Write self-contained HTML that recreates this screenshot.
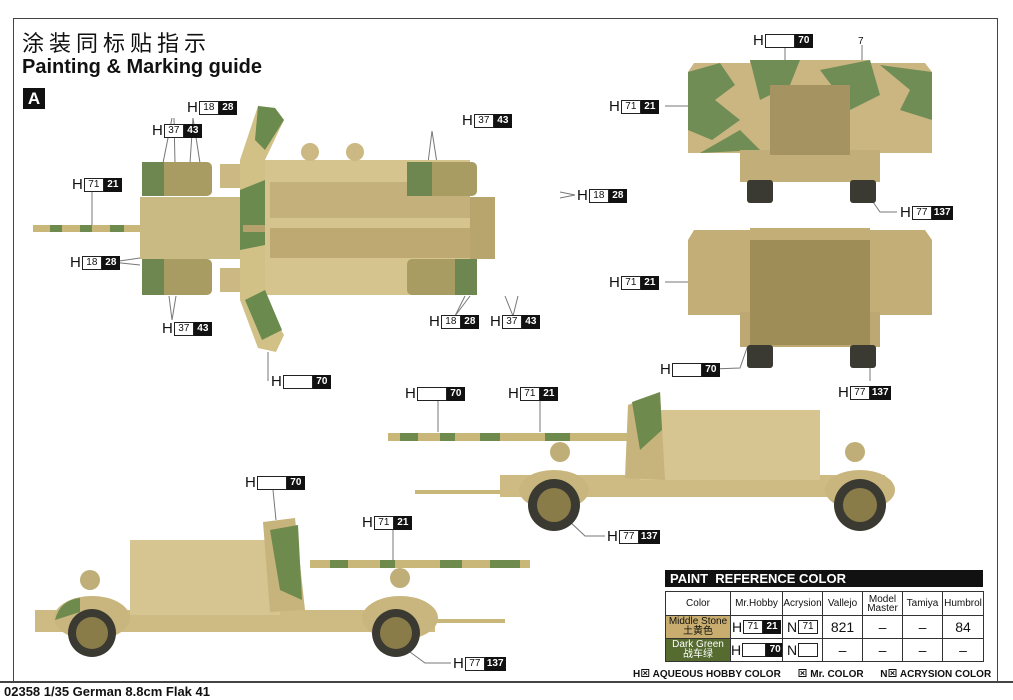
<!DOCTYPE html>
<html><head><meta charset="utf-8"><style>
*{margin:0;padding:0;box-sizing:border-box}
body{width:1013px;height:700px;background:#fff;position:relative;overflow:hidden;font-family:"Liberation Sans","Noto Sans CJK SC",sans-serif;color:#111}
.a{position:absolute}
.lb{position:absolute;display:flex;align-items:center;height:15px;font-size:15px;line-height:15px}
.lb .h{margin-right:1px}
.lb .w{display:inline-block;border:1px solid #222;height:14px;min-width:20px;font-size:10px;line-height:12px;text-align:center;padding:0 2px;background:#fff}
.lb .k{display:inline-block;background:#111;color:#fff;height:14px;min-width:18px;font-size:10px;font-weight:bold;line-height:14px;text-align:center;padding:0 2px}
.lb .e{min-width:30px}
table{border-collapse:collapse;position:absolute;left:665px;top:591px;font-size:10px;table-layout:fixed;width:318px}
td{border:1px solid #333;text-align:center;height:23px;padding:0;overflow:hidden;white-space:nowrap}
td .lb{font-size:14px}
</style></head><body>
<div class="a" style="left:13px;top:18px;width:985px;height:664px;border-left:1px solid #444;border-top:1px solid #444;border-right:1px solid #444"></div>
<div class="a" style="left:0;top:681px;width:1013px;height:2px;background:#444"></div>
<div class="a" style="left:22px;top:26px;font-size:22px;letter-spacing:5px">涂装同标贴指示</div>
<div class="a" style="left:22px;top:56px;font-size:20px;font-weight:bold">Painting &amp; Marking guide</div>
<div class="a" style="left:23px;top:88px;width:22px;height:21px;background:#111;color:#fff;font-weight:bold;font-size:17px;text-align:center;line-height:21px">A</div>
<div class="a" style="left:4px;top:684px;font-size:13px;font-weight:bold">02358 1/35 German 8.8cm Flak 41</div>

<svg class="a" style="left:0;top:0" width="1013" height="700">
<g stroke="#777" stroke-width="1" fill="none">
<path d="M172 118 L163 163 M174 118 L175 163 M193 118 L190 163 M193 118 L200 163"/>
<path d="M92 192 L92 228"/>
<path d="M112 262 L140 258 M112 262 L140 265"/>
<path d="M172 320 L169 296 M172 320 L176 296"/>
<path d="M268 352 L268 381"/>
<path d="M432 131 L428 163 M432 131 L437 163"/>
<path d="M575 195 L560 192 M575 195 L560 198"/>
<path d="M455 316 L465 296 M455 316 L470 296 M513 316 L505 296 M513 316 L518 296"/>
<path d="M785 47 L785 60 M862 45 L862 60"/>
<path d="M665 106 L690 106 M665 282 L690 282"/>
<path d="M897 212 L880 212 L873 202"/>
<path d="M712 369 L740 368 L748 345"/>
<path d="M870 381 L870 365"/>
<path d="M438 400 L438 432 M540 400 L540 432"/>
<path d="M605 536 L585 536 L568 520"/>
<path d="M273 490 L276 520 M393 530 L393 560"/>
<path d="M451 663 L425 663 L410 652"/>
</g>
<!-- TOP VIEW -->
<rect x="33" y="225" width="200" height="7" fill="#c8b779"/>
<g fill="#6f8a4d"><rect x="50" y="225" width="12" height="7"/><rect x="80" y="225" width="12" height="7"/><rect x="110" y="225" width="14" height="7"/><rect x="150" y="225" width="18" height="7"/><rect x="200" y="225" width="30" height="7"/></g>
<rect x="140" y="197" width="100" height="62" fill="#c9b982"/>
<rect x="240" y="160" width="230" height="135" fill="#d5c48e"/>
<rect x="270" y="182" width="200" height="36" fill="#c4b07a"/>
<rect x="270" y="228" width="200" height="30" fill="#bfa972"/>
<rect x="470" y="197" width="25" height="62" fill="#b8a56d"/>
<circle cx="310" cy="152" r="9" fill="#cbb882"/><circle cx="355" cy="152" r="9" fill="#cbb882"/>
<rect x="142" y="162" width="70" height="34" rx="5" fill="#a89c63"/><rect x="142" y="162" width="22" height="34" fill="#6e8650"/>
<rect x="142" y="259" width="70" height="36" rx="5" fill="#a89c63"/><rect x="142" y="259" width="22" height="36" fill="#6e8650"/>
<rect x="407" y="162" width="70" height="34" rx="5" fill="#a89c63"/><rect x="407" y="162" width="25" height="34" fill="#6e8650"/>
<rect x="407" y="259" width="70" height="36" rx="5" fill="#a89c63"/><rect x="455" y="259" width="22" height="36" fill="#6e8650"/>
<rect x="220" y="164" width="22" height="24" fill="#cbb882"/><rect x="220" y="268" width="22" height="24" fill="#cbb882"/>
<polygon points="258,106 275,108 284,120 265,160 265,300 284,335 276,352 258,348 240,300 240,160" fill="#d2c187"/>
<polygon points="258,106 275,108 284,120 265,150 255,140" fill="#6a8a4e"/>
<polygon points="240,190 265,180 265,245 240,250" fill="#6a8a4e"/>
<polygon points="245,300 265,290 282,330 262,340" fill="#6a8a4e"/>
<rect x="243" y="225" width="22" height="7" fill="#b5a26c"/>
<!-- FRONT VIEW -->
<polygon points="694,63 750,63 750,60 870,60 870,63 925,63 932,72 932,153 688,153 688,72" fill="#cbb682"/>
<g fill="#6f8d55"><polygon points="688,72 720,63 735,85 715,100 740,120 712,140 688,130"/><polygon points="750,60 800,60 790,85 760,100"/><polygon points="820,70 870,60 880,95 850,110"/><polygon points="880,65 932,72 932,120 900,110 910,90"/><polygon points="740,130 760,150 700,153"/></g>
<rect x="740" y="150" width="140" height="32" fill="#c2ae78"/>
<rect x="770" y="85" width="80" height="70" fill="#a59461"/>
<rect x="747" y="180" width="26" height="23" rx="3" fill="#3a3a32"/><rect x="850" y="180" width="26" height="23" rx="3" fill="#3a3a32"/>
<!-- REAR VIEW -->
<polygon points="694,230 750,230 750,228 870,228 870,230 925,230 932,240 932,315 688,315 688,240" fill="#c4ae78"/>
<rect x="740" y="312" width="140" height="35" fill="#bda773"/>
<rect x="750" y="240" width="120" height="105" fill="#9f8d58"/>
<rect x="747" y="345" width="26" height="23" rx="3" fill="#3a3a32"/><rect x="850" y="345" width="26" height="23" rx="3" fill="#3a3a32"/>
<!-- RIGHT SIDE VIEW -->
<rect x="388" y="433" width="240" height="8" fill="#c8b779"/>
<g fill="#6f8a4d"><rect x="400" y="433" width="18" height="8"/><rect x="440" y="433" width="15" height="8"/><rect x="480" y="433" width="20" height="8"/><rect x="545" y="433" width="25" height="8"/></g>
<rect x="415" y="490" width="110" height="4" fill="#c8b779"/>
<rect x="500" y="475" width="385" height="22" fill="#cdbb83"/>
<rect x="640" y="410" width="180" height="70" fill="#d6c590"/>
<polygon points="628,405 660,392 665,480 625,478" fill="#c7b37c"/>
<polygon points="632,402 660,392 662,430 640,450" fill="#6f8a4d"/>
<ellipse cx="554" cy="490" rx="35" ry="20" fill="#c8b67e"/><ellipse cx="860" cy="490" rx="35" ry="20" fill="#c8b67e"/>
<circle cx="554" cy="505" r="26" fill="#3b3a32"/><circle cx="554" cy="505" r="17" fill="#8a7c48"/>
<circle cx="860" cy="505" r="26" fill="#3b3a32"/><circle cx="860" cy="505" r="17" fill="#8a7c48"/>
<circle cx="560" cy="452" r="10" fill="#bfae77"/><circle cx="855" cy="452" r="10" fill="#bfae77"/>
<!-- LEFT SIDE VIEW -->
<rect x="310" y="560" width="220" height="8" fill="#c8b779"/>
<g fill="#6f8a4d"><rect x="330" y="560" width="18" height="8"/><rect x="380" y="560" width="15" height="8"/><rect x="440" y="560" width="22" height="8"/><rect x="490" y="560" width="30" height="8"/></g>
<rect x="420" y="619" width="85" height="4" fill="#c8b779"/>
<rect x="35" y="610" width="400" height="22" fill="#cdbb83"/>
<rect x="130" y="540" width="150" height="75" fill="#d6c590"/>
<polygon points="263,522 295,518 305,610 270,612" fill="#c7b37c"/>
<polygon points="270,530 298,525 302,600 280,590" fill="#6f8a4d"/>
<ellipse cx="92" cy="618" rx="38" ry="22" fill="#c8b67e"/><ellipse cx="400" cy="618" rx="38" ry="22" fill="#c8b67e"/>
<path d="M55 620 Q60 600 80 598 L80 612 Z" fill="#6f8a4d"/>
<circle cx="92" cy="633" r="24" fill="#3b3a32"/><circle cx="92" cy="633" r="16" fill="#8a7c48"/>
<circle cx="396" cy="633" r="24" fill="#3b3a32"/><circle cx="396" cy="633" r="16" fill="#8a7c48"/>
<circle cx="90" cy="580" r="10" fill="#bfae77"/><circle cx="400" cy="578" r="10" fill="#bfae77"/>
</svg>

<div class="lb" style="left:187px;top:100px"><span class="h">H</span><span class="w">18</span><span class="k">28</span></div>
<div class="lb" style="left:152px;top:123px"><span class="h">H</span><span class="w">37</span><span class="k">43</span></div>
<div class="lb" style="left:72px;top:177px"><span class="h">H</span><span class="w">71</span><span class="k">21</span></div>
<div class="lb" style="left:70px;top:255px"><span class="h">H</span><span class="w">18</span><span class="k">28</span></div>
<div class="lb" style="left:162px;top:321px"><span class="h">H</span><span class="w">37</span><span class="k">43</span></div>
<div class="lb" style="left:271px;top:374px"><span class="h">H</span><span class="w e"></span><span class="k">70</span></div>
<div class="lb" style="left:462px;top:113px"><span class="h">H</span><span class="w">37</span><span class="k">43</span></div>
<div class="lb" style="left:577px;top:188px"><span class="h">H</span><span class="w">18</span><span class="k">28</span></div>
<div class="lb" style="left:429px;top:314px"><span class="h">H</span><span class="w">18</span><span class="k">28</span></div>
<div class="lb" style="left:490px;top:314px"><span class="h">H</span><span class="w">37</span><span class="k">43</span></div>
<div class="lb" style="left:753px;top:33px"><span class="h">H</span><span class="w e"></span><span class="k">70</span></div>
<div class="a" style="left:858px;top:36px;font-size:10px">7</div>
<div class="lb" style="left:609px;top:99px"><span class="h">H</span><span class="w">71</span><span class="k">21</span></div>
<div class="lb" style="left:900px;top:205px"><span class="h">H</span><span class="w">77</span><span class="k">137</span></div>
<div class="lb" style="left:609px;top:275px"><span class="h">H</span><span class="w">71</span><span class="k">21</span></div>
<div class="lb" style="left:660px;top:362px"><span class="h">H</span><span class="w e"></span><span class="k">70</span></div>
<div class="lb" style="left:838px;top:385px"><span class="h">H</span><span class="w">77</span><span class="k">137</span></div>
<div class="lb" style="left:405px;top:386px"><span class="h">H</span><span class="w e"></span><span class="k">70</span></div>
<div class="lb" style="left:508px;top:386px"><span class="h">H</span><span class="w">71</span><span class="k">21</span></div>
<div class="lb" style="left:607px;top:529px"><span class="h">H</span><span class="w">77</span><span class="k">137</span></div>
<div class="lb" style="left:245px;top:475px"><span class="h">H</span><span class="w e"></span><span class="k">70</span></div>
<div class="lb" style="left:362px;top:515px"><span class="h">H</span><span class="w">71</span><span class="k">21</span></div>
<div class="lb" style="left:453px;top:656px"><span class="h">H</span><span class="w">77</span><span class="k">137</span></div>

<div class="a" style="left:665px;top:570px;width:318px;height:17px;background:#111;color:#fff;font-weight:bold;font-size:13px;line-height:17px;padding-left:5px">PAINT&nbsp; REFERENCE COLOR</div>
<table>
<colgroup><col style="width:65px"><col style="width:52px"><col style="width:40px"><col style="width:40px"><col style="width:40px"><col style="width:40px"><col style="width:41px"></colgroup>
<tr style="height:24px"><td>Color</td><td>Mr.Hobby</td><td>Acrysion</td><td>Vallejo</td><td style="line-height:9px">Model<br>Master</td><td>Tamiya</td><td>Humbrol</td></tr>
<tr><td style="background:#c8ad6e;line-height:10px">Middle Stone<br>土黄色</td><td><span class="lb" style="position:static;display:inline-flex"><span class="h">H</span><span class="w">71</span><span class="k">21</span></span></td><td><span class="lb" style="position:static;display:inline-flex"><span class="h">N</span><span class="w">71</span></span></td><td style="font-size:14px">821</td><td style="font-size:14px">–</td><td style="font-size:14px">–</td><td style="font-size:14px">84</td></tr>
<tr><td style="background:#566b2f;color:#fff;line-height:10px">Dark Green<br>战车绿</td><td><span class="lb" style="position:static;display:inline-flex"><span class="h">H</span><span class="w" style="min-width:24px"></span><span class="k">70</span></span></td><td><span class="lb" style="position:static;display:inline-flex"><span class="h">N</span><span class="w"></span></span></td><td style="font-size:14px">–</td><td style="font-size:14px">–</td><td style="font-size:14px">–</td><td style="font-size:14px">–</td></tr>
</table>
<div class="a" style="left:633px;top:665px;font-size:10px;font-weight:bold;white-space:nowrap">H⊠ AQUEOUS HOBBY COLOR &nbsp;&nbsp;&nbsp;&nbsp; ⊠ Mr. COLOR &nbsp;&nbsp;&nbsp;&nbsp; N⊠ ACRYSION COLOR</div>
</body></html>
